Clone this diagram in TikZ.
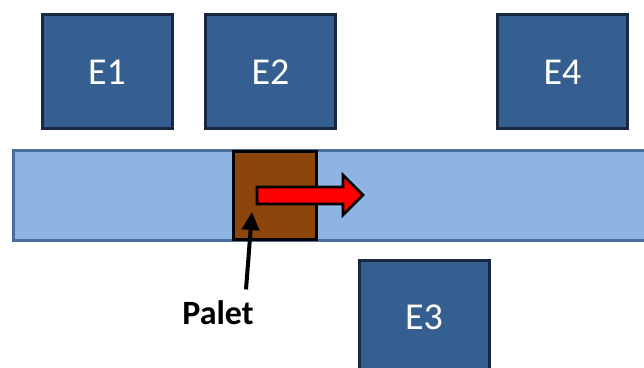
\documentclass[tikz,border=0pt]{standalone}
\usepackage{fontspec}
\setmainfont{Carlito}
\usetikzlibrary{arrows.meta}

\definecolor{estacion}{RGB}{54,95,145}
\definecolor{estborde}{RGB}{24,40,64}
\definecolor{cinta}{RGB}{142,180,227}
\definecolor{cintaborde}{RGB}{74,110,156}
\definecolor{palet}{RGB}{140,70,12}

\tikzset{
    est/.style={draw=estborde, line width=3pt, fill=estacion,
        minimum width=130pt, minimum height=114pt, inner sep=0pt,
        text=white, font=\fontsize{38}{40}\selectfont}
}

\begin{document}
\begin{tikzpicture}[x=1pt,y=1pt]
    \useasboundingbox (0,0) rectangle (644,367);
    \fill[white] (0,0) rectangle (644,367);

    % 传送带
    \draw[draw=cintaborde, line width=3pt, fill=cinta]
        (13,216) rectangle (670,127);

    % 工位
    \node[est] (e1) at (107,295) {E1};
    \node[est] (e2) at (270.5,295) {E2};
    \node[est] (e4) at (562.5,295) {E4};
    \node[est] (e3) at (424,50) {E3};

    % 托盘
    \node[draw=black, line width=3pt, fill=palet, inner sep=0pt,
        minimum width=83pt, minimum height=87pt] (pal) at (274.5,171.5) {};

    % 红色箭头 (运动方向)
    \draw[line width=2.8pt, fill=red, line join=miter]
        (257,180) -- (343,180) -- (343,192) -- (363,172) -- (343,152)
        -- (343,163) -- (257,163) -- cycle;

    % 标签与指示箭头
    \node[font=\fontsize{34}{36}\selectfont\bfseries] (lab) at (218,54) {Palet};
    \coordinate (tip) at (252,155);
    \draw[line width=4pt, -{Triangle[width=17pt,length=18pt]}]
        ([xshift=28pt,yshift=8pt]lab.north) -- (tip);
\end{tikzpicture}
\end{document}
